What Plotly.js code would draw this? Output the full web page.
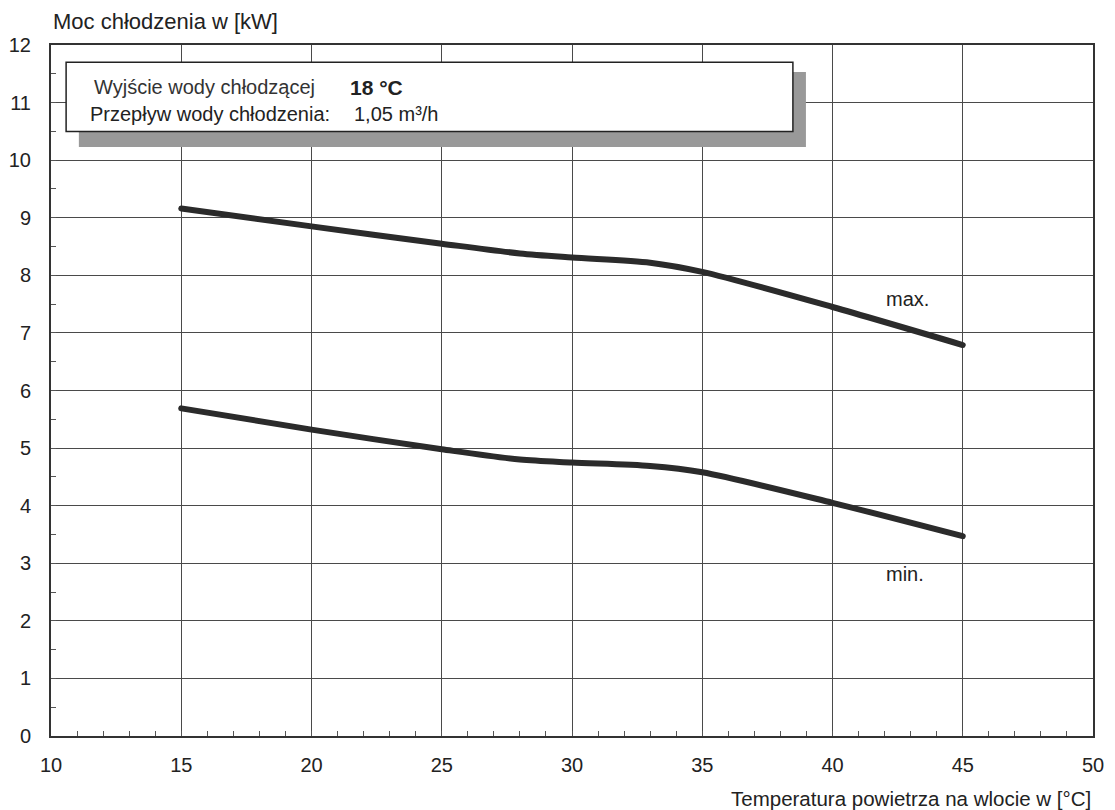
<!DOCTYPE html>
<html>
<head>
<meta charset="utf-8">
<script src="https://cdn.plot.ly/plotly-3.0.1.min.js"></script>
<style>html,body{margin:0;padding:0;background:#fff;}#chart{width:1115px;height:810px;}
.js-line{stroke-linecap:round;}</style>
</head>
<body>
<div id="chart"></div>
<script>
// Data
const temperature = [15, 20, 25, 28, 30, 33, 35, 40, 45];
const coolingMax  = [9.16, 8.85, 8.55, 8.38, 8.31, 8.22, 8.06, 7.45, 6.79];
const coolingMin  = [5.69, 5.32, 4.98, 4.80, 4.75, 4.69, 4.58, 4.05, 3.47];
const xTicks = [10, 15, 20, 25, 30, 35, 40, 45, 50];
const yTicks = [0, 1, 2, 3, 4, 5, 6, 7, 8, 9, 10, 11, 12];
const seriesLabels = ["max.", "min."];

const lineStyle = {color: '#2b2b2b', width: 6, shape: 'spline', smoothing: 0.8};
const traces = [
  {x: temperature, y: coolingMax, mode: 'lines', line: lineStyle, name: seriesLabels[0], hoverinfo: 'x+y'},
  {x: temperature, y: coolingMin, mode: 'lines', line: lineStyle, name: seriesLabels[1], hoverinfo: 'x+y'}
];

const font = 'Liberation Sans, Arial, sans-serif';
const txt = '#222';

const layout = {
  width: 1115, height: 810,
  margin: {l: 51, r: 22, t: 45, b: 74},
  paper_bgcolor: '#fff', plot_bgcolor: '#fff',
  showlegend: false,
  font: {family: font, size: 20, color: txt},
  xaxis: {
    range: [10, 50], tickvals: xTicks, ticktext: xTicks.map(String),
    showgrid: true, gridcolor: '#4a4a4a', gridwidth: 1,
    showline: true, linecolor: '#333', linewidth: 2, mirror: true,
    ticks: 'inside', ticklen: 5, tickcolor: '#555', tickwidth: 1,
    minor: {dtick: 1, tick0: 10, ticks: 'inside', ticklen: 5, tickcolor: '#555', tickwidth: 1, showgrid: false},
    ticklabelstandoff: 10,
    zeroline: false, fixedrange: true,
    tickfont: {family: font, size: 20, color: txt}
  },
  yaxis: {
    range: [0, 12], tickvals: yTicks, ticktext: yTicks.map(String),
    showgrid: true, gridcolor: '#4a4a4a', gridwidth: 1,
    showline: true, linecolor: '#333', linewidth: 2, mirror: true,
    ticks: 'inside', ticklen: 5, tickcolor: '#555', tickwidth: 1,
    minor: {dtick: 0.5, tick0: 0, ticks: 'inside', ticklen: 5, tickcolor: '#555', tickwidth: 1, showgrid: false},
    ticklabelstandoff: 14,
    zeroline: false, fixedrange: true,
    tickfont: {family: font, size: 20, color: txt}
  },
  shapes: [
    {type: 'rect', xref: 'x', yref: 'y', x0: 11.07, x1: 38.98, y0: 10.23, y1: 11.53,
     fillcolor: '#999999', line: {width: 0}, layer: 'above'},
    {type: 'rect', xref: 'x', yref: 'y', x0: 10.58, x1: 38.48, y0: 10.5, y1: 11.70,
     fillcolor: '#ffffff', line: {color: '#222', width: 1.5}, layer: 'above'}
  ],
  annotations: [
    {xref: 'paper', yref: 'paper', x: 0, y: 1, yshift: 24, xanchor: 'left', yanchor: 'middle',
     text: 'Moc chłodzenia w [kW]', showarrow: false, font: {family: font, size: 22, color: txt}},
    {xref: 'paper', yref: 'paper', x: 1, y: 0, yshift: -62, xanchor: 'right', yanchor: 'middle',
     text: 'Temperatura powietrza na wlocie w [°C]', showarrow: false, font: {family: font, size: 20.5, color: txt}},
    {xref: 'x', yref: 'y', x: 11.57, y: 11.27, xanchor: 'left', yanchor: 'middle',
     text: 'Wyjście wody chłodzącej', showarrow: false, font: {family: font, size: 20, color: '#333'}},
    {xref: 'x', yref: 'y', x: 21.4, y: 11.27, xanchor: 'left', yanchor: 'middle',
     text: '<b>18 °C</b>', showarrow: false, font: {family: font, size: 21, color: txt}},
    {xref: 'x', yref: 'y', x: 11.42, y: 10.8, xanchor: 'left', yanchor: 'middle',
     text: 'Przepływ wody chłodzenia:', showarrow: false, font: {family: font, size: 20, color: txt}},
    {xref: 'x', yref: 'y', x: 21.55, y: 10.8, xanchor: 'left', yanchor: 'middle',
     text: '1,05 m³/h', showarrow: false, font: {family: font, size: 20, color: txt}},
    {xref: 'x', yref: 'y', x: 42.86, y: 7.59, xanchor: 'center', yanchor: 'middle',
     text: seriesLabels[0], showarrow: false, font: {family: font, size: 20, color: txt}},
    {xref: 'x', yref: 'y', x: 42.8, y: 2.81, xanchor: 'center', yanchor: 'middle',
     text: seriesLabels[1], showarrow: false, font: {family: font, size: 20, color: txt}}
  ]
};

Plotly.newPlot('chart', traces, layout, {displayModeBar: false, staticPlot: true});
</script>
</body>
</html>
